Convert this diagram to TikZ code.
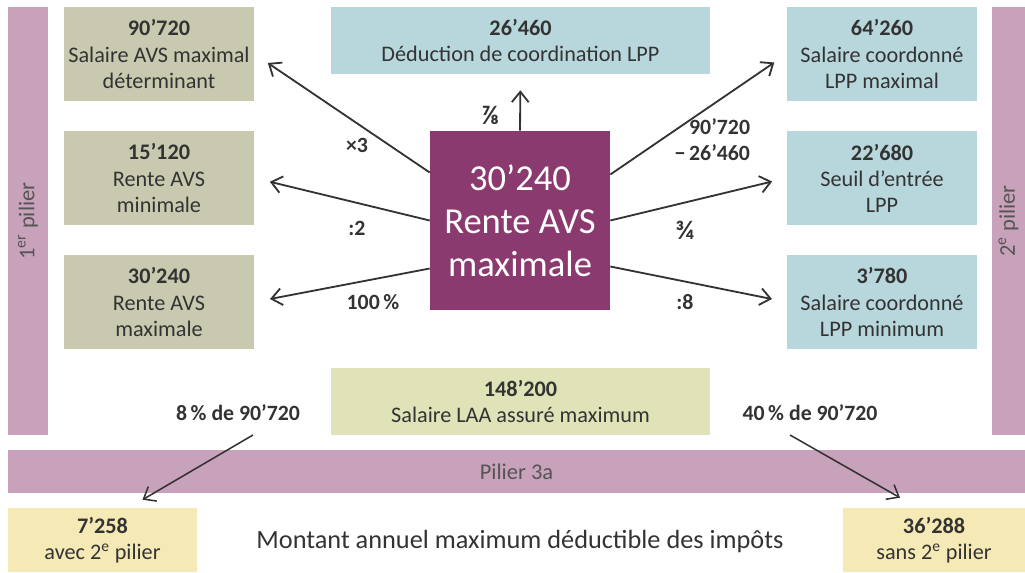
\documentclass[tikz,border=0pt]{standalone}
\usepackage{fontspec}
\setmainfont{Carlito}
\usepackage{tikz}
\usetikzlibrary{arrows.meta,calc,positioning}
\usepackage{xcolor}
\definecolor{avspurple}{RGB}{138,58,110}
\definecolor{avspink}{RGB}{200,162,187}
\definecolor{avsolive}{RGB}{201,201,175}
\definecolor{lppblue}{RGB}{184,215,220}
\definecolor{laagreen}{RGB}{224,226,183}
\definecolor{p3yellow}{RGB}{245,233,181}
\definecolor{txtgray}{RGB}{51,51,51}
\definecolor{pilgray}{RGB}{85,85,85}
\tikzstyle{arrow} = [line width=1.3pt,->,>={Straight Barb[length=2.6mm,width=4.2mm]},color=txtgray]
\tikzstyle{avsbox} = [rectangle, minimum width=4.75cm, minimum height=2.35cm, text centered, align=center, fill=avsolive, text=txtgray, font=\fontsize{15.8}{18.5}\selectfont]
\tikzstyle{lppbox} = [avsbox, fill=lppblue]
\tikzstyle{pillar} = [rectangle, fill=avspink, text=pilgray, font=\fontsize{16}{18}\selectfont]
\tikzstyle{calc} = [font=\bfseries\fontsize{15.5}{18.5}\selectfont, text=txtgray, align=center]

\begin{document}
\begin{tikzpicture}[x=0.025cm, y=-0.025cm]
    \useasboundingbox (0,0) rectangle (1025,572);

    % Pillars
    \node[pillar, minimum width=1cm, minimum height=10.7cm] (pil1) at (28,221) {};
    \node[rotate=90, text=pilgray, font=\fontsize{16}{18}\selectfont] (pil1txt) at (pil1) {1\textsuperscript{er} pilier};
    \node[pillar, minimum width=0.825cm, minimum height=10.7cm] (pil2) at (1008.5,221) {};
    \node[rotate=90, text=pilgray, font=\fontsize{16}{18}\selectfont] (pil2txt) at (pil2) {2\textsuperscript{e} pilier};
    \node[pillar, minimum width=25.425cm, minimum height=1.075cm] (pil3) at (516.5,471.5) {Pilier 3a};

    % AVS
    \node[avsbox] (salavs) at (159,54) {\textbf{90’720}\\Salaire AVS maximal\\déterminant};
    \node[avsbox] (rmin) at (159,178) {\textbf{15’120}\\Rente AVS\\minimale};
    \node[avsbox] (rmax) at (159,302) {\textbf{30’240}\\Rente AVS\\maximale};

    % LPP
    \node[lppbox, minimum width=9.475cm, minimum height=1.675cm] (dedu) at (520.5,40.5) {\textbf{26’460}\\Déduction de coordination LPP};
    \node[lppbox] (cmax) at (882,54) {\textbf{64’260}\\Salaire coordonné\\LPP maximal};
    \node[lppbox] (seuil) at (882,178) {\textbf{22’680}\\Seuil d’entrée\\LPP};
    \node[lppbox] (cmin) at (882,302) {\textbf{3’780}\\Salaire coordonné\\LPP minimum};

    % Rente
    \node[rectangle, fill=avspurple, text=white, minimum width=4.5cm, minimum height=4.475cm, align=center, font=\fontsize{26}{30.5}\selectfont] (rente) at (520,220.5) {30’240\\Rente AVS\\maximale};

    % LAA
    \node[avsbox, fill=laagreen, minimum width=9.475cm, minimum height=1.675cm] (laa) at (520.5,401.5) {\textbf{148’200}\\Salaire LAA assuré maximum};

    % Pilier 3a
    \node[avsbox, fill=p3yellow, minimum width=4.725cm, minimum height=1.6cm] (avec) at (102.5,540) {\textbf{7’258}\\avec 2\textsuperscript{e} pilier};
    \node[avsbox, fill=p3yellow, minimum width=4.55cm, minimum height=1.6cm] (sans) at (934,540) {\textbf{36’288}\\sans 2\textsuperscript{e} pilier};
    \node[text=txtgray, font=\fontsize{18.7}{21}\selectfont] (montant) at (520,541) {Montant annuel maximum déductible des impôts};

    % Labels
    \node[calc] (fx3) at (357,145) {×3};
    \node[calc] (fd2) at (357,228) {:2};
    \node[calc] (f100) at (373,302) {100\,\%};
    \node[calc, font=\bfseries\fontsize{19}{20}\selectfont] (f78) at (490,115) {⅞};
    \node[calc, align=right, anchor=east] (fdiff) at (755,140) {90’720\\−\,26’460};
    \node[calc, font=\bfseries\fontsize{19}{20}\selectfont] (f34) at (685,230) {¾};
    \node[calc] (fd8) at (685,302) {:8};
    \node[calc] (f8pct) at (238,413) {8\,\% de 90’720};
    \node[calc] (f40pct) at (810,413) {40\,\% de 90’720};

    % Arrows
    \draw[arrow, shorten >=16*0.025cm] (rente.152) -- (salavs.east);
    \draw[arrow, shorten >=16*0.025cm] (rente.180) -- (rmin.east);
    \draw[arrow, shorten >=16*0.025cm] (rente.208) -- (rmax.east);
    \draw[arrow, shorten >=16*0.025cm] (rente.north) -- (dedu.south);
    \draw[arrow, shorten >=15*0.025cm] (rente.27) -- (cmax.west);
    \draw[arrow, shorten >=15*0.025cm] (rente.0) -- (seuil.west);
    \draw[arrow, shorten >=15*0.025cm] (rente.333) -- (cmin.west);
    \coordinate (from8) at (253,435);
    \coordinate (from40) at (790,435);
    \draw[arrow, line width=1.1pt] (from8) -- ($(avec.north)+(40,-8)$);
    \draw[arrow, line width=1.1pt] (from40) -- ($(sans.north)+(-34,-10)$);
\end{tikzpicture}
\end{document}
